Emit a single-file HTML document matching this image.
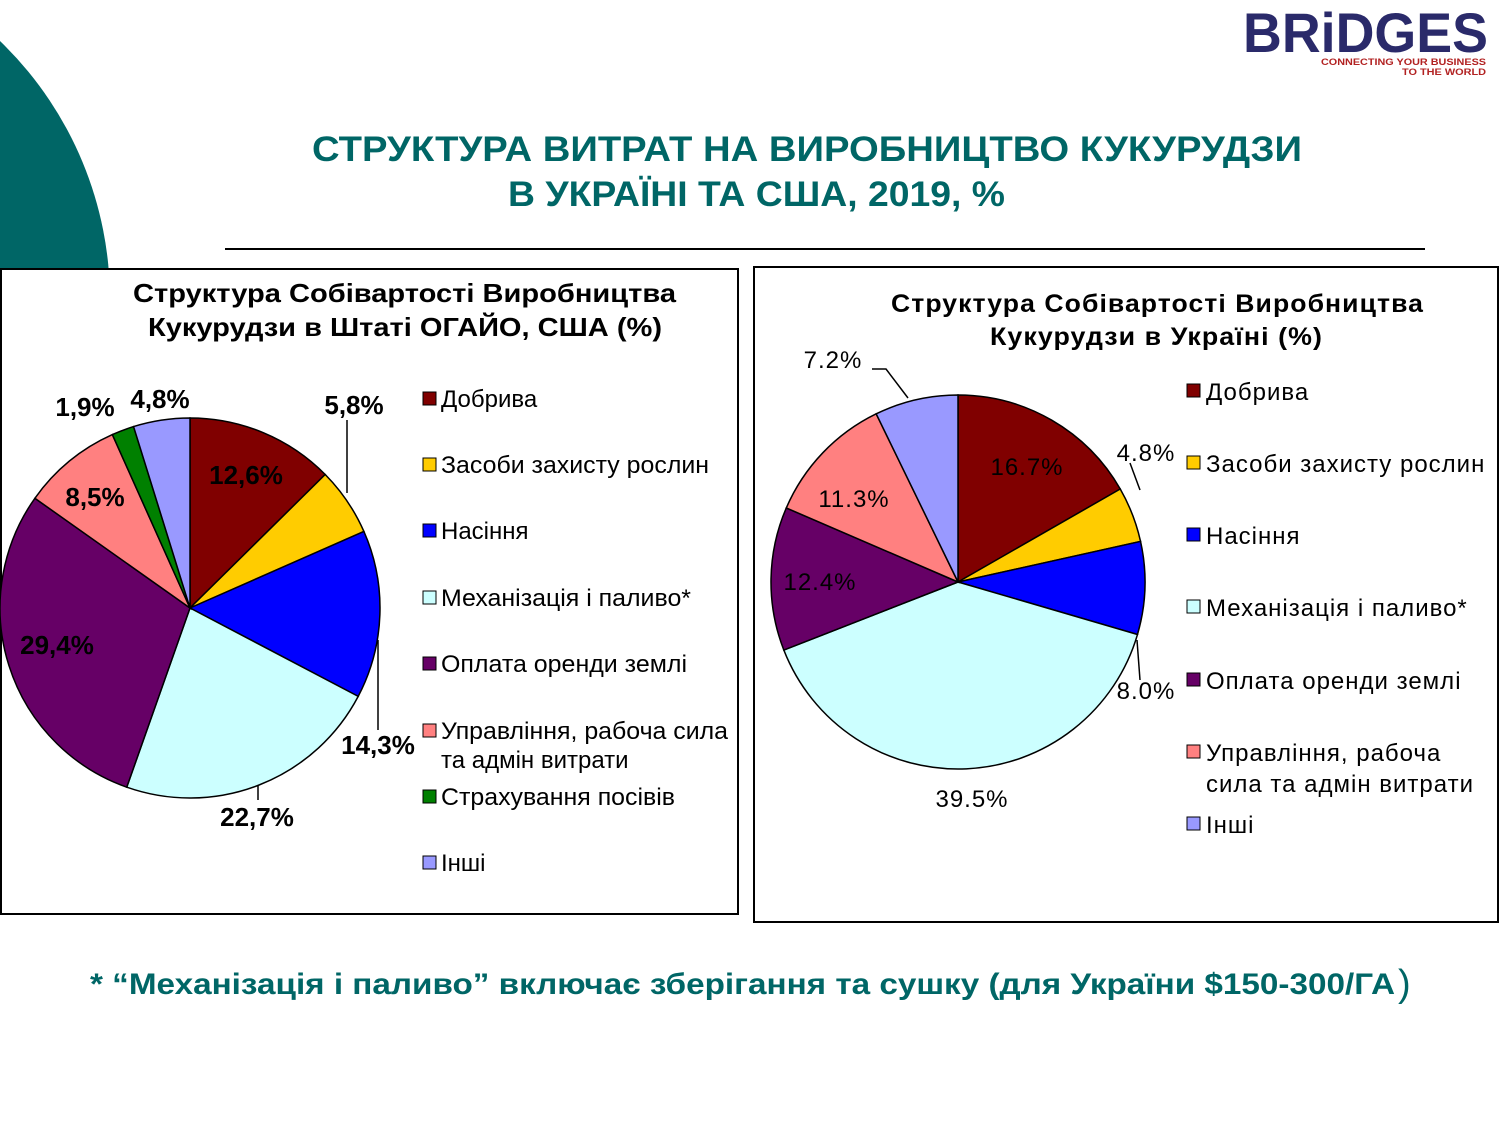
<!DOCTYPE html>
<html><head><meta charset="utf-8"><style>
body{margin:0;background:#fff;width:1500px;height:1125px;overflow:hidden;font-family:"Liberation Sans",sans-serif}
</style></head><body>
<svg id="s" width="1500" height="1125" xmlns="http://www.w3.org/2000/svg" font-family="Liberation Sans, sans-serif">
<circle cx="-250" cy="300" r="360" fill="#006666"/>
<text x="1243" y="52" font-size="56" font-weight="bold" fill="#2a2a6a" textLength="245" lengthAdjust="spacingAndGlyphs">BRiDGES</text>
<text x="1486" y="65" font-size="9" font-weight="bold" fill="#b22222" text-anchor="end" textLength="165" lengthAdjust="spacingAndGlyphs">CONNECTING YOUR BUSINESS</text>
<text x="1486" y="75" font-size="9" font-weight="bold" fill="#b22222" text-anchor="end" textLength="84" lengthAdjust="spacingAndGlyphs">TO THE WORLD</text>
<text x="312" y="161" font-size="35" font-weight="bold" fill="#006666" textLength="990" lengthAdjust="spacingAndGlyphs">СТРУКТУРА  ВИТРАТ НА  ВИРОБНИЦТВО КУКУРУДЗИ</text>
<text x="508" y="206" font-size="35" font-weight="bold" fill="#006666" textLength="497" lengthAdjust="spacingAndGlyphs">В УКРАЇНІ ТА США, 2019, %</text>
<line x1="225" y1="249" x2="1425" y2="249" stroke="#000" stroke-width="2"/>
<rect x="1" y="269" width="737" height="645" fill="#fff" stroke="#000" stroke-width="2"/>
<rect x="754" y="267" width="744" height="655" fill="#fff" stroke="#000" stroke-width="2"/>
<g id="p1"></g><g id="p2"></g>
<g font-size="26" font-weight="bold" fill="#000">
<text x="133" y="302" textLength="543" lengthAdjust="spacingAndGlyphs">Структура Собівартості Виробництва</text>
<text x="148" y="336" textLength="514" lengthAdjust="spacingAndGlyphs">Кукурудзи в Штаті ОГАЙО, США (%)</text>
</g>
<g font-size="26" font-weight="bold" fill="#000" text-anchor="middle">
<text x="85" y="416">1,9%</text><text x="160" y="408">4,8%</text><text x="354" y="414">5,8%</text>
<text x="246" y="484">12,6%</text><text x="95" y="506">8,5%</text><text x="57" y="654">29,4%</text>
<text x="378" y="754">14,3%</text><text x="257" y="826">22,7%</text>
</g>
<g stroke="#000" stroke-width="1.5" fill="none">
<polyline points="347,420 347,493"/><polyline points="378,640 378,730"/><polyline points="258,786 258,800"/>
<polyline points="872,369 886,369 908,398"/><polyline points="1130,463 1140,490"/><polyline points="1137,640 1140,680"/>
</g>
<g font-size="24" fill="#000">
<text x="441" y="407">Добрива</text><text x="441" y="473" textLength="268" lengthAdjust="spacingAndGlyphs">Засоби захисту рослин</text>
<text x="441" y="539">Насіння</text><text x="441" y="606" textLength="250" lengthAdjust="spacingAndGlyphs">Механізація і паливо*</text>
<text x="441" y="672" textLength="246" lengthAdjust="spacingAndGlyphs">Оплата оренди землі</text><text x="441" y="739" textLength="287" lengthAdjust="spacingAndGlyphs">Управління, рабоча сила</text>
<text x="441" y="768">та адмін витрати</text><text x="441" y="805" textLength="234" lengthAdjust="spacingAndGlyphs">Страхування посівів</text>
<text x="441" y="871">Інші</text>
</g>
<g stroke="#000" stroke-width="1">
<rect x="423" y="392" width="13" height="13" fill="#800000"/><rect x="423" y="458" width="13" height="13" fill="#ffcc00"/>
<rect x="423" y="524" width="13" height="13" fill="#0000ff"/><rect x="423" y="591" width="13" height="13" fill="#ccffff"/>
<rect x="423" y="657" width="13" height="13" fill="#660066"/><rect x="423" y="724" width="13" height="13" fill="#ff8080"/>
<rect x="423" y="790" width="13" height="13" fill="#008000"/><rect x="423" y="856" width="13" height="13" fill="#9999ff"/>
<rect x="1187" y="384" width="13" height="13" fill="#800000"/><rect x="1187" y="456" width="13" height="13" fill="#ffcc00"/>
<rect x="1187" y="528" width="13" height="13" fill="#0000ff"/><rect x="1187" y="600" width="13" height="13" fill="#ccffff"/>
<rect x="1187" y="673" width="13" height="13" fill="#660066"/><rect x="1187" y="745" width="13" height="13" fill="#ff8080"/>
<rect x="1187" y="817" width="13" height="13" fill="#9999ff"/>
</g>
<g font-size="24" fill="#000" letter-spacing="1">
<text x="891" y="312" font-weight="bold" font-size="25" textLength="533" lengthAdjust="spacingAndGlyphs">Структура Собівартості Виробництва</text>
<text x="990" y="345" font-weight="bold" font-size="25" textLength="333" lengthAdjust="spacingAndGlyphs">Кукурудзи в Україні (%)</text>
<text x="1206" y="400">Добрива</text><text x="1206" y="472">Засоби захисту рослин</text>
<text x="1206" y="544">Насіння</text><text x="1206" y="616">Механізація і паливо*</text>
<text x="1206" y="689">Оплата оренди землі</text><text x="1206" y="761">Управління, рабоча</text>
<text x="1206" y="792">сила та адмін витрати</text><text x="1206" y="833">Інші</text>
<text x="833" y="368" text-anchor="middle">7.2%</text><text x="1146" y="461" text-anchor="middle">4.8%</text>
<text x="1027" y="475" text-anchor="middle">16.7%</text><text x="854" y="507" text-anchor="middle">11.3%</text>
<text x="820" y="590" text-anchor="middle">12.4%</text><text x="1146" y="699" text-anchor="middle">8.0%</text>
<text x="972" y="807" text-anchor="middle">39.5%</text>
</g>
<text x="90" y="994" font-size="30" font-weight="bold" fill="#006666" textLength="1305" lengthAdjust="spacingAndGlyphs">* “Механізація і паливо” включає зберігання та сушку (для України $150-300/ГА</text>
<text x="1398" y="996" font-size="38" fill="#006666">)</text>
</svg>
<script>
function pie(id,cx,cy,r,vals,cols){var g=document.getElementById(id),a=0,t=vals.reduce((x,y)=>x+y,0),h='';
vals.forEach(function(v,i){var a2=a+v/t*2*Math.PI;var x1=cx+r*Math.sin(a),y1=cy-r*Math.cos(a),x2=cx+r*Math.sin(a2),y2=cy-r*Math.cos(a2);
h+='<path d="M'+cx+','+cy+'L'+x1+','+y1+'A'+r+','+r+' 0 '+((a2-a)>Math.PI?1:0)+' 1 '+x2+','+y2+'Z" fill="'+cols[i]+'" stroke="#000" stroke-width="1.5"/>';a=a2;});
g.innerHTML=h;}
pie('p1',190,608,190,[12.6,5.8,14.3,22.7,29.4,8.5,1.9,4.8],['#800000','#ffcc00','#0000ff','#ccffff','#660066','#ff8080','#008000','#9999ff']);
pie('p2',958,582,187,[16.7,4.8,8.0,39.5,12.4,11.3,7.2],['#800000','#ffcc00','#0000ff','#ccffff','#660066','#ff8080','#9999ff']);
</script>
</body></html>
